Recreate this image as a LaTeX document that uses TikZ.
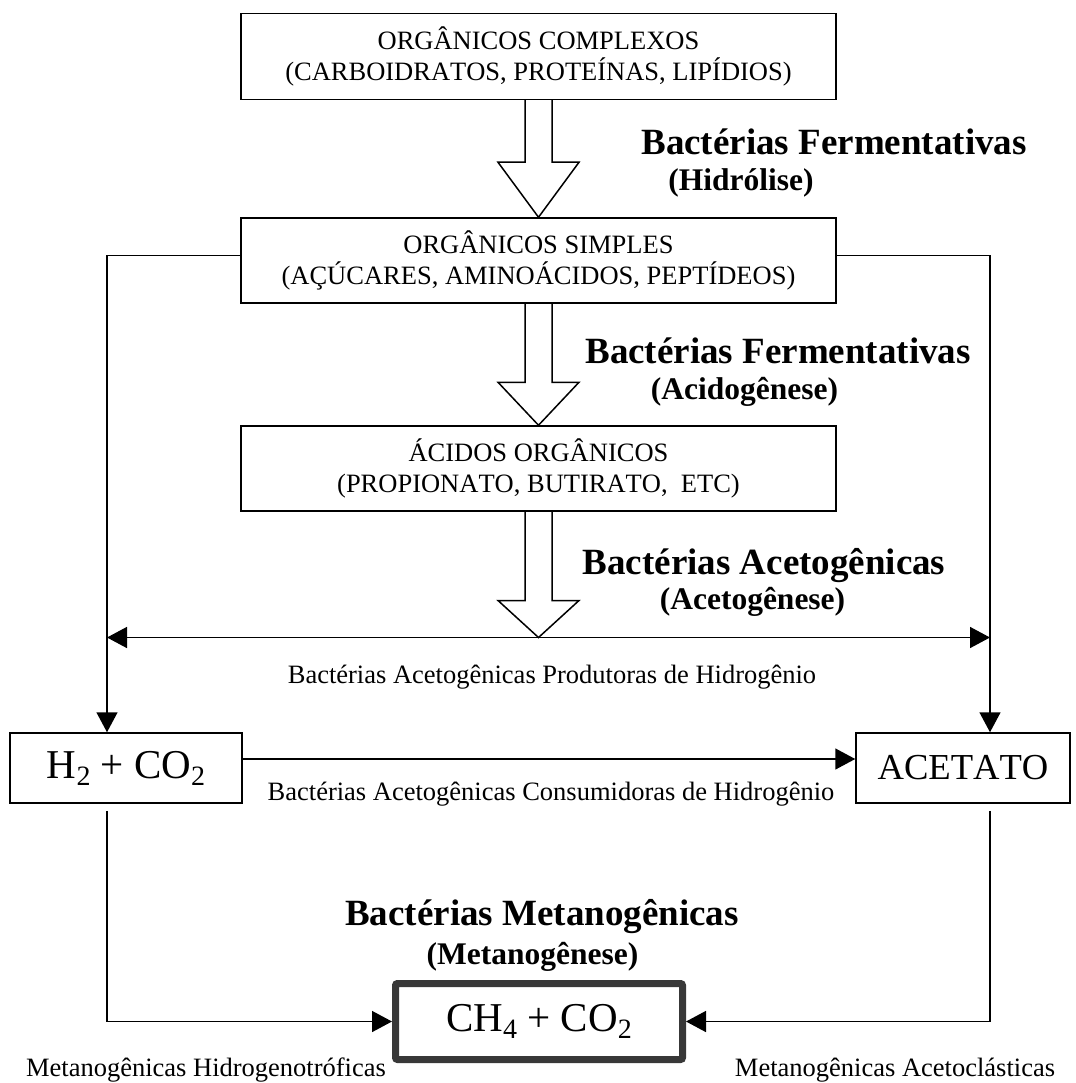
\documentclass[tikz,border=0pt]{standalone}
\usepackage{fontspec}
\setmainfont[Kerning=Off]{Liberation Serif}
\usetikzlibrary{arrows.meta,calc}
\definecolor{chgray}{RGB}{56,56,56}
\newcommand{\mysub}[1]{\raisebox{-7pt}{\fontsize{28}{28}\selectfont #1}}
\begin{document}
\begin{tikzpicture}[x=1pt,y=-1pt,
  box/.style={draw, line width=1.5pt, inner sep=0pt, align=center, font=\fontsize{26.5}{31}\selectfont},
  bigbox/.style={draw, line width=1.5pt, inner sep=0pt, font=\fontsize{41}{41}\selectfont},
  conn/.style={line width=1.5pt},
  tri/.tip={Triangle[length=20pt,width=21pt]},
  hollow/.style={line width=1.5pt, line join=miter},
  lbl/.style={anchor=base, inner sep=0pt, font=\fontsize{26.5}{30}\selectfont},
  blbl/.style={anchor=base, inner sep=0pt, font=\bfseries\fontsize{37}{40}\selectfont},
  slbl/.style={anchor=base, inner sep=0pt, font=\bfseries\fontsize{31.5}{34}\selectfont},
]
\useasboundingbox (0,0) rectangle (1075,1083);

% boxes
\node[box, minimum width=595pt, minimum height=86pt] (b1) at (538.5,56.5) {ORGÂNICOS COMPLEXOS\\(CARBOIDRATOS, PROTEÍNAS, LIPÍDIOS)};
\node[box, minimum width=595pt, minimum height=85pt] (b2) at (538.5,260.5) {ORGÂNICOS SIMPLES\\(AÇÚCARES, AMINOÁCIDOS, PEPTÍDEOS)};
\node[box, minimum width=595pt, minimum height=85pt] (b3) at (538.5,468.5) {ÁCIDOS ORGÂNICOS\\(PROPIONATO, BUTIRATO,\ \ ETC)};
\node[bigbox, minimum width=232pt, minimum height=70pt] (h2) at (126,768) {H\mysub{2} + CO\mysub{2}};
\node[bigbox, minimum width=214pt, minimum height=70pt, font=\fontsize{36.6}{40}\selectfont] (ac) at (963,768) {ACETATO};
\node[bigbox, minimum width=287pt, minimum height=76pt, line width=7pt, draw=chgray, rounded corners=2pt] (ch4) at (539,1021.5) {CH\mysub{4} + CO\mysub{2}};

% hollow block arrows
\draw[hollow] ($(b1.south)+(-13.5,0)$) -- ($(b2.north)+(-13.5,-55)$) -- ($(b2.north)+(-40.5,-55)$) -- (b2.north) -- ($(b2.north)+(40.5,-55)$) -- ($(b2.north)+(13.5,-55)$) -- ($(b1.south)+(13.5,0)$);
\draw[hollow] ($(b2.south)+(-13.5,0)$) -- ($(b3.north)+(-13.5,-43)$) -- ($(b3.north)+(-40.5,-43)$) -- (b3.north) -- ($(b3.north)+(40.5,-43)$) -- ($(b3.north)+(13.5,-43)$) -- ($(b2.south)+(13.5,0)$);
\coordinate (mid) at (538.5,637.5);
\draw[hollow] ($(b3.south)+(-13.5,0)$) -- ($(mid)+(-13.5,-37)$) -- ($(mid)+(-40.5,-37)$) -- (mid) -- ($(mid)+(40.5,-37)$) -- ($(mid)+(13.5,-37)$) -- ($(b3.south)+(13.5,0)$);

% connectors
\coordinate (lj) at (107,637.5);
\coordinate (rj) at (990,637.5);
\draw[conn, tri-tri] (lj) -- (rj);
\draw[conn,-tri] ([yshift=5pt]b2.west) -| ([xshift=-19pt]h2.north);
\draw[conn,-tri] ([yshift=5pt]b2.east) -| ([xshift=27pt]ac.north);
\draw[conn,-tri] ([yshift=9pt]h2.east) -- ([yshift=9pt]ac.west);
\draw[conn,-tri] ([xshift=-19pt,yshift=-7pt]h2.south) |- (ch4.west);
\draw[conn,-tri] ([xshift=27pt,yshift=-7pt]ac.south) |- (ch4.east);

% labels
\node[blbl] (f1) at (834,155) {Bactérias Fermentativas};
\node[slbl] (f1s) at (741,191) {(Hidrólise)};
\node[blbl] (f2) at (778,363) {Bactérias Fermentativas};
\node[slbl] (f2s) at (744.5,399) {(Acidogênese)};
\node[blbl] (a3) at (764,574) {Bactérias Acetogênicas};
\node[slbl] (a3s) at (752.5,609) {(Acetogênese)};
\node[blbl] (m) at (542,925) {Bactérias Metanogênicas};
\node[slbl] (ms) at (532.5,964) {(Metanogênese)};
\node[lbl] (prod) at (552,683) {Bactérias Acetogênicas Produtoras de Hidrogênio};
\node[lbl] (cons) at (551,800) {Bactérias Acetogênicas Consumidoras de Hidrogênio};
\node[lbl] (hid) at (206,1076) {Metanogênicas Hidrogenotróficas};
\node[lbl] (acl) at (895,1076) {Metanogênicas Acetoclásticas};
\end{tikzpicture}
\end{document}
